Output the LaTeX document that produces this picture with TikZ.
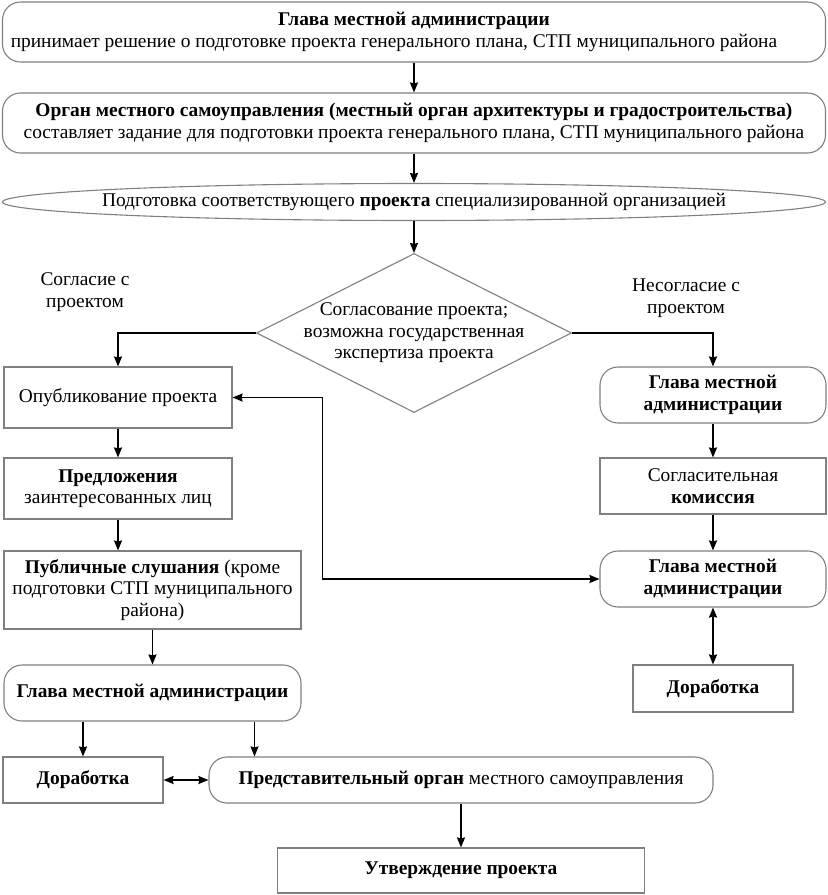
\documentclass[tikz,border=0pt]{standalone}
\usepackage{fontspec}
\setmainfont{Liberation Serif}
\usetikzlibrary{arrows.meta,shapes.geometric}
\begin{document}
\begin{tikzpicture}[x=1pt,y=-1pt,
  every node/.style={font=\fontsize{19.4}{21.5}\selectfont, align=center, inner sep=0pt},
  bx/.style={draw=black!50, line width=1.1pt},
  sbox/.style={bx, rectangle},
  rbox/.style={bx, rectangle, rounded corners=18pt},
  arr/.style={line width=1.7pt, -{Stealth[length=10pt,width=8pt,inset=1pt]}},
  arrb/.style={line width=1.7pt, {Stealth[length=10pt,width=8pt,inset=1pt]}-{Stealth[length=10pt,width=8pt,inset=1pt]}},
  lbl/.style={}]
\useasboundingbox (0,0) rectangle (828,895);
% top
\node[rbox, minimum width=823pt, minimum height=60pt] (top1) at (414,32)
  {\textbf{Глава местной администрации}\\принимает решение о подготовке проекта генерального плана, СТП муниципального района\hspace*{40pt}};
\node[rbox, minimum width=823pt, minimum height=60pt] (top2) at (414,123)
  {\textbf{Орган местного самоуправления (местный орган архитектуры и градостроительства)}\\составляет задание для подготовки проекта генерального плана, СТП муниципального района};
\node[bx, ellipse, minimum width=823pt, minimum height=37pt] (ell) at (414,202) {};
\node (ellt) at (ell.center) {Подготовка соответствующего \textbf{проекта} специализированной организацией};
\node[bx, diamond, minimum width=315pt, minimum height=159pt] (dia) at (414,333) {};
\node (diat) at (dia.center) {Согласование проекта;\\возможна государственная\\экспертиза проекта};
\node[lbl] (lsog) at (85,292) {Согласие с\\проектом};
\node[lbl] (lnes) at (686,298) {Несогласие с\\проектом};
% left column
\node[sbox, minimum width=228pt, minimum height=61pt] (pub) at (118,397.5) {Опубликование проекта};
\node[sbox, minimum width=228pt, minimum height=61pt] (pred) at (118,488.5) {\textbf{Предложения}\\заинтересованных лиц};
\node[sbox, minimum width=297pt, minimum height=78pt] (slush) at (152.5,590) {\textbf{Публичные слушания} (кроме\\подготовки СТП муниципального\\района)};
\node[rbox, minimum width=297pt, minimum height=56pt] (gl3) at (152.5,693) {\textbf{Глава местной администрации}};
\node[sbox, minimum width=160pt, minimum height=46pt] (dor1) at (83,780) {\textbf{Доработка}};
\node[rbox, minimum width=504pt, minimum height=46pt] (porg) at (461,780) {\textbf{Представительный орган} местного самоуправления};
\node[sbox, minimum width=367pt, minimum height=45pt] (utv) at (461,870.5) {\textbf{Утверждение проекта}};
% right column
\node[rbox, minimum width=226pt, minimum height=56pt] (glr1) at (713,395) {\textbf{Глава местной}\\\textbf{администрации}};
\node[sbox, minimum width=226pt, minimum height=56pt] (sogl) at (713,486) {Согласительная\\\textbf{комиссия}};
\node[rbox, minimum width=226pt, minimum height=56pt] (glr2) at (713,579) {\textbf{Глава местной}\\\textbf{администрации}};
\node[sbox, minimum width=160pt, minimum height=47pt] (dor2) at (713,688.5) {\textbf{Доработка}};
% connectors
\draw[arr] (top1) -- (top2);
\draw[arr] (top2) -- (ell);
\draw[arr] (ell.south) -- (dia.north);
\draw[arr] (dia.west) -| (pub.north);
\draw[arr] (dia.east) -| (glr1.north);
\draw[arr] (pub) -- (pred);
\draw[arr] (pred.south) -- (pred.south |- slush.north);
\draw[arr] (slush) -- (gl3);
\draw[arr] (dor1.north |- gl3.south) -- (dor1.north);
\draw[arr] ([xshift=102pt]gl3.south) -- ([xshift=102pt]gl3.south |- porg.north);
\draw[arrb] (dor1.east) -- (porg.west);
\draw[arr] (porg) -- (utv);
\draw[arr] (glr1) -- (sogl);
\draw[arr] (sogl) -- (glr2);
\draw[arrb] (glr2) -- (dor2);
\draw[arrb] (glr2.west) -- ++(-277,0) |- (pub.east);
\end{tikzpicture}
\end{document}
